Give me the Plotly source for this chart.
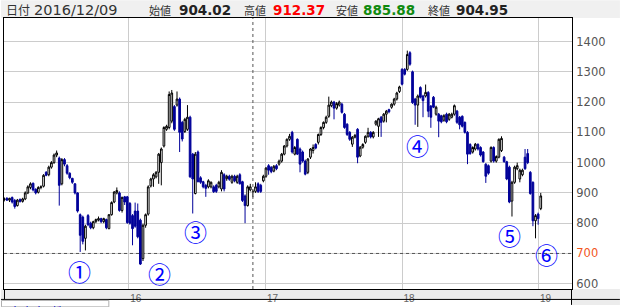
import plotly.graph_objects as go
import pandas as pd

# ---- weekly OHLC values ----
open_ = [878, 882, 876, 885, 875, 858, 878, 872, 880, 900,
         918, 932, 912, 902, 918, 922, 968, 960, 985, 1000,
         1025, 1015, 930, 1010, 990, 965, 948, 930, 900, 828,
         820, 750, 825, 800, 785, 805, 810, 815, 805, 812,
         782, 828, 870, 900, 900, 842, 887, 887, 865, 825,
         840, 840, 810, 683, 793, 830, 923, 946, 953, 968,
         1000, 1055, 1110, 1116, 1137, 1185, 1190, 1210, 1133, 1103,
         1110, 1150, 1028, 898, 1035, 950, 937, 925, 920, 920,
         920, 925, 920, 913, 960, 947, 955, 935, 955, 935,
         960, 937, 890, 858, 910, 904.02, 905, 930, 925, 940,
         955, 990, 985, 972, 990, 995, 1005, 1028, 1055, 1077,
         1100, 1028, 1077, 1045, 1035, 1005, 968, 1018, 1040, 1060,
         1067, 1093, 1116, 1133, 1153, 1188, 1200, 1180, 1190, 1193,
         1160, 1127, 1100, 1061, 1084, 1110, 1022, 1051, 1067, 1087,
         1100, 1085, 1127, 1120, 1150, 1137, 1160, 1175, 1183, 1193,
         1210, 1235, 1308, 1308, 1308, 1363, 1300, 1210, 1190, 1248,
         1220, 1220, 1232, 1187, 1216, 1160, 1160, 1155, 1140, 1160,
         1143, 1150, 1160, 1170, 1150, 1153, 1133, 1100, 1060, 1035,
         1045, 1060, 1050, 1035, 995, 990, 1005, 1050, 1005, 1018,
         1040, 1018, 1003, 985, 873, 935, 980, 946, 960, 1018,
         1030, 968, 935, 808, 830, 848]
high = [885, 886, 884, 888, 880, 880, 882, 884, 905, 925,
        935, 934, 915, 922, 925, 962, 972, 990, 1005, 1030,
        1040, 1020, 1015, 1015, 995, 968, 950, 932, 902, 832,
        825, 795, 830, 805, 808, 815, 822, 818, 818, 815,
        830, 872, 906, 918, 905, 888, 890, 890, 870, 830,
        868, 865, 815, 798, 832, 925, 950, 965, 972, 1032,
        1050, 1120, 1125, 1235, 1240, 1190, 1235, 1215, 1138, 1148,
        1190, 1155, 1032, 1035, 1040, 955, 940, 930, 945, 938,
        925, 930, 940, 975, 965, 960, 960, 960, 960, 960,
        965, 940, 895, 925, 930, 912.37, 935, 935, 930, 960,
        985, 995, 988, 992, 995, 1010, 1032, 1058, 1080, 1095,
        1105, 1055, 1080, 1050, 1040, 1010, 1015, 1048, 1060, 1064,
        1096, 1120, 1136, 1155, 1218, 1205, 1204, 1200, 1205, 1198,
        1164, 1130, 1104, 1088, 1095, 1114, 1055, 1064, 1090, 1115,
        1104, 1104, 1140, 1148, 1154, 1164, 1174, 1178, 1196, 1214,
        1234, 1254, 1312, 1312, 1370, 1368, 1304, 1214, 1225, 1252,
        1224, 1258, 1236, 1190, 1220, 1188, 1164, 1158, 1160, 1165,
        1164, 1165, 1192, 1174, 1154, 1156, 1136, 1104, 1064, 1054,
        1065, 1064, 1054, 1038, 998, 994, 1054, 1054, 1024, 1080,
        1087, 1022, 1006, 990, 940, 990, 1000, 980, 980, 1045,
        1045, 972, 938, 830, 835, 900]
low = [872, 874, 870, 865, 848, 855, 868, 868, 876, 896,
       912, 905, 895, 898, 912, 918, 955, 955, 980, 996,
       1018, 858, 925, 988, 960, 945, 930, 895, 835, 705,
       730, 710, 790, 780, 780, 800, 806, 800, 800, 780,
       780, 825, 866, 895, 838, 835, 860, 798, 795, 727,
       785, 750, 662, 675, 785, 825, 918, 920, 948, 930,
       925, 1050, 1105, 1110, 1130, 1105, 1185, 1035, 1070, 1098,
       1105, 950, 832, 895, 935, 930, 915, 887, 915, 915,
       900, 900, 915, 905, 905, 940, 940, 930, 935, 930,
       928, 870, 800, 855, 905, 885.88, 900, 900, 900, 935,
       950, 960, 965, 968, 975, 990, 1000, 1024, 1050, 1072,
       1030, 1024, 1025, 968, 1000, 958, 962, 1012, 1030, 1044,
       1060, 1088, 1110, 1128, 1148, 1183, 1143, 1175, 1185, 1162,
       1112, 1088, 1072, 1052, 1080, 998, 1018, 1046, 1062, 1082,
       1080, 1080, 1122, 1085, 1085, 1132, 1133, 1163, 1178, 1188,
       1205, 1230, 1255, 1288, 1303, 1320, 1194, 1125, 1118, 1212,
       1150, 1215, 1150, 1115, 1180, 1155, 1084, 1130, 1135, 1130,
       1138, 1146, 1155, 1128, 1110, 1116, 1096, 995, 1026, 1030,
       1040, 1040, 1020, 1000, 933, 960, 1000, 1000, 1000, 1014,
       1035, 1000, 942, 866, 822, 930, 975, 935, 955, 976,
       995, 894, 790, 750, 795, 843]
close = [880, 876, 882, 870, 855, 876, 872, 880, 900, 920,
         930, 910, 900, 918, 920, 958, 958, 985, 1000, 1025,
         1032, 925, 1010, 995, 965, 950, 935, 900, 840, 760,
         740, 790, 795, 785, 805, 812, 815, 805, 815, 785,
         828, 868, 903, 908, 842, 885, 870, 802, 800, 782,
         790, 755, 665, 793, 828, 920, 946, 960, 968, 1028,
         1045, 1116, 1120, 1225, 1230, 1110, 1210, 1100, 1078, 1143,
         1150, 953, 946, 1028, 937, 935, 920, 915, 940, 935,
         904, 905, 935, 968, 913, 955, 945, 955, 940, 955,
         930, 875, 858, 920, 920, 904.95, 920, 904, 905, 955,
         982, 975, 970, 988, 980, 1005, 1028, 1055, 1077, 1087,
         1035, 1050, 1028, 995, 1005, 962, 1012, 1045, 1050, 1048,
         1093, 1116, 1133, 1150, 1190, 1200, 1180, 1195, 1200, 1166,
         1116, 1093, 1077, 1084, 1090, 1018, 1051, 1060, 1087, 1100,
         1085, 1100, 1137, 1145, 1133, 1160, 1170, 1168, 1193, 1210,
         1230, 1250, 1259, 1292, 1357, 1325, 1198, 1190, 1220, 1216,
         1205, 1232, 1170, 1150, 1183, 1183, 1137, 1135, 1155, 1135,
         1160, 1160, 1188, 1133, 1125, 1120, 1100, 1028, 1030, 1050,
         1061, 1045, 1025, 1003, 955, 965, 1050, 1005, 1020, 1077,
         1080, 1003, 946, 870, 935, 985, 990, 975, 975, 980,
         1000, 898, 808, 825, 815, 890]
first_week = "2015-02-02"
dates = pd.date_range(first_week, periods=len(close), freq="7D")

# ---- axes ----
y_ticks = [600, 700, 800, 900, 1000, 1100, 1200, 1300, 1400]
y_tick_text = ["600", "<span style='color:#f2561d'>700</span>", "800", "900",
               "1000", "1100", "1200", "1300", "1400"]
x_ticks = ["2016-01-01", "2017-01-01", "2018-01-01", "2019-01-01"]
x_tick_text = ["16", "17", "18", "19"]

# ---- header & marks ----
sel_index = 95
header_date = "2016/12/09"
ohlc_labels = ["始値", "高値", "安値", "終値"]
ohlc_values = ["904.02", "912.37", "885.88", "904.95"]
ohlc_colors = ["#222222", "#ff0000", "#108a10", "#222222"]
cross_value = 700
circled = ["①", "②", "③", "④", "⑤", "⑥"]

W, H = 620, 307
L, R, T, B = 3, 48, 18, 16
PW, PH = W - L - R, H - T - B


def px(x):
    return (x - L) / PW


def py(y):
    return (H - B - y) / PH


fig = go.Figure()
fig.add_trace(go.Candlestick(
    x=dates, open=open_, high=high, low=low, close=close,
    increasing=dict(line=dict(color="#000000", width=1), fillcolor="#ffffff"),
    decreasing=dict(line=dict(color="#000099", width=1), fillcolor="#000099"),
    hoverinfo="skip", showlegend=False,
))

shapes = []
# header band
shapes.append(dict(type="rect", xref="paper", yref="paper", x0=px(0), x1=px(W),
                   y0=py(18), y1=py(0), fillcolor="#f0f0f0", line_width=0, layer="below"))
# bottom date strip
shapes.append(dict(type="rect", xref="paper", yref="paper", x0=px(0), x1=px(W),
                   y0=py(301), y1=py(291), fillcolor="#ececec", line_width=0, layer="below"))
shapes.append(dict(type="rect", xref="paper", yref="paper", x0=px(572), x1=px(W),
                   y0=py(H), y1=py(301), fillcolor="#ececec", line_width=0, layer="below"))
shapes.append(dict(type="line", xref="paper", yref="paper", x0=px(0), x1=px(W),
                   y0=py(301.5), y1=py(301.5), line=dict(color="#000000", width=1)))
shapes.append(dict(type="line", xref="paper", yref="paper", x0=px(3.5), x1=px(3.5),
                   y0=py(301.5), y1=py(291), line=dict(color="#000000", width=1)))
shapes.append(dict(type="line", xref="paper", yref="paper", x0=px(571.5), x1=px(571.5),
                   y0=py(H), y1=py(291), line=dict(color="#000000", width=1)))
shapes.append(dict(type="rect", xref="paper", yref="paper", x0=px(0.5), x1=px(108),
                   y0=py(H + 2), y1=py(302.5), fillcolor="#ffffff",
                   line=dict(color="#b0b0b0", width=1)))
# crosshair
shapes.append(dict(type="line", xref="x", yref="paper", x0=dates[sel_index], x1=dates[sel_index],
                   y0=0, y1=1, line=dict(color="#555555", width=1, dash="dot")))
shapes.append(dict(type="line", xref="paper", yref="y", x0=0, x1=1,
                   y0=cross_value, y1=cross_value, line=dict(color="#555555", width=1, dash="dot")))

ann = []
FONT = "DejaVu Sans, Noto Sans CJK JP, sans-serif"
JFONT = "Noto Sans CJK JP, sans-serif"
ann.append(dict(text="日付", x=px(3), y=py(9.5), xref="paper", yref="paper", xanchor="left",
                yanchor="middle", showarrow=False, font=dict(family=JFONT, size=12, color="#333")))
ann.append(dict(text=header_date, x=px(31), y=py(9.5), xref="paper", yref="paper", xanchor="left",
                yanchor="middle", showarrow=False, font=dict(family=FONT, size=14.5, color="#333")))
lab_x = [146, 241, 334, 426]
val_x = [176, 270, 361, 454]
for lb, v, c, lx, vx in zip(ohlc_labels, ohlc_values, ohlc_colors, lab_x, val_x):
    ann.append(dict(text=lb, x=px(lx), y=py(10), xref="paper", yref="paper", xanchor="left",
                    yanchor="middle", showarrow=False, font=dict(family=JFONT, size=11, color="#333")))
    ann.append(dict(text="<b>%s</b>" % v, x=px(vx), y=py(9.5), xref="paper", yref="paper",
                    xanchor="left", yanchor="middle", showarrow=False,
                    font=dict(family=FONT, size=13.5, color=c)))

circ_px = [(78.5, 273), (159, 275), (195, 233), (417, 146), (509, 237), (546.5, 256)]
for t, (cx, cy) in zip(circled, circ_px):
    ann.append(dict(text=t, x=px(cx), y=py(cy), xref="paper", yref="paper", xanchor="center",
                    yanchor="middle", showarrow=False,
                    font=dict(family=JFONT, size=23, color="#0000ff")))

ann.append(dict(text="出来高 (株)", x=px(6), y=py(303), xref="paper", yref="paper", xanchor="left",
                yanchor="top", showarrow=False, font=dict(family=JFONT, size=12, color="#0000cc")))

x0 = pd.Timestamp("2015-02-01 04:48")
x1 = x0 + pd.Timedelta(days=PW / 0.3745)

fig.update_layout(
    width=W, height=H,
    margin=dict(l=L, r=R, t=T, b=B, pad=0),
    paper_bgcolor="#ffffff", plot_bgcolor="#ffffff",
    shapes=shapes, annotations=ann,
    showlegend=False,
    hovermode=False,
    boxgap=0.08,
    xaxis=dict(
        type="date", range=[x0, x1], rangeslider=dict(visible=False),
        tickmode="array", tickvals=x_ticks, ticktext=x_tick_text,
        showgrid=True, gridcolor="#cccccc", gridwidth=1,
        showline=True, linecolor="#000000", linewidth=1, mirror=True,
        ticks="", ticklabelshift=7, ticklabelstandoff=0,
        tickfont=dict(family="Liberation Sans, Arial, sans-serif", size=10, color="#666666"),
        zeroline=False, fixedrange=True,
    ),
    yaxis=dict(
        range=[582.6, 1477.7], side="right",
        tickmode="array", tickvals=y_ticks, ticktext=y_tick_text,
        showgrid=True, gridcolor="#cccccc", gridwidth=1,
        showline=True, linecolor="#000000", linewidth=1, mirror=True,
        ticks="", ticklabelstandoff=1,
        tickfont=dict(family="DejaVu Sans, sans-serif", size=11.5, color="#555555"),
        zeroline=False, fixedrange=True,
    ),
)

fig.write_html("out.html", config={"displayModeBar": False})
